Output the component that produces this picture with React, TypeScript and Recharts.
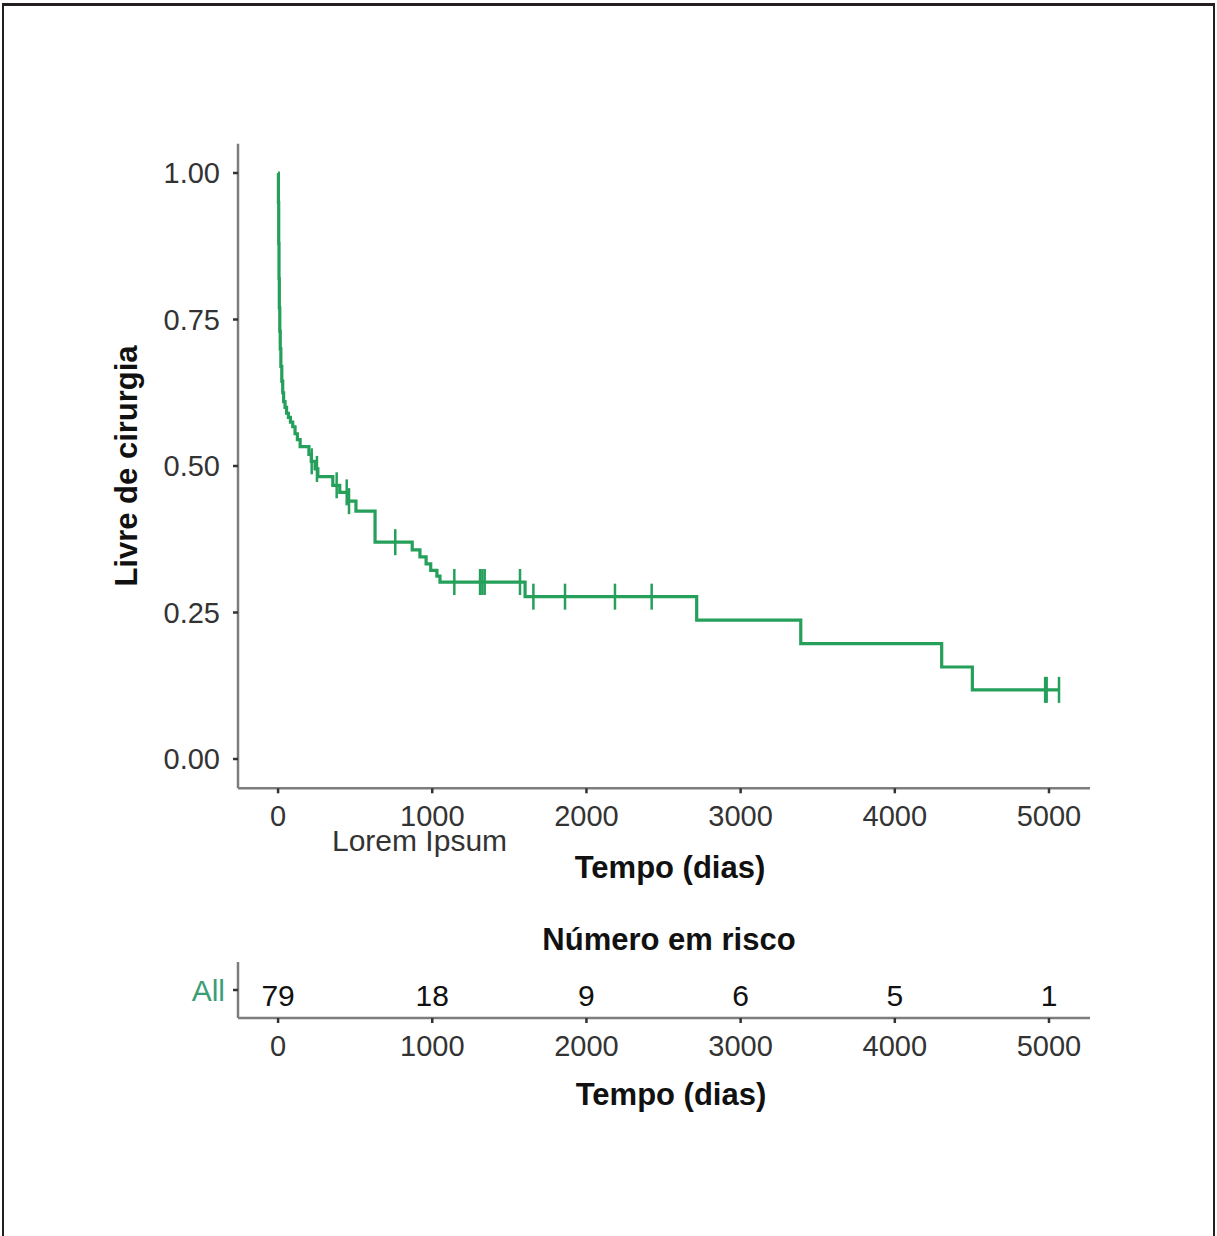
import React from "react";
import { ComposedChart, Line, Scatter, XAxis, YAxis, Label } from "recharts";

const FONT = '"Liberation Sans", Arial, Helvetica, sans-serif';
const GREEN = "#24a05b";
const GROUP_GREEN = "#3a9e76";
const AXIS_GRAY = "#7d7d7d";
const TICK_DARK = "#333333";

// eixos
const timeTicks = [0, 1000, 2000, 3000, 4000, 5000];
const survTicks = [0, 0.25, 0.5, 0.75, 1];

// curva de Kaplan-Meier (degraus)
const stepTimes = [
  0, 2, 4, 6, 8, 11, 14, 18, 24, 30, 36, 45, 55, 67, 80, 95, 110, 125, 143,
  200, 215, 240, 258, 355, 400, 455, 505, 629, 870, 920, 960, 990, 1030, 1050,
  1602, 2715, 3390, 4304, 4503, 5065,
];
const stepSurv = [
  1.0, 0.95, 0.88, 0.82, 0.77, 0.73, 0.7, 0.67, 0.645, 0.625, 0.61, 0.6, 0.59,
  0.583, 0.575, 0.567, 0.555, 0.545, 0.533, 0.52, 0.508, 0.495, 0.482, 0.467,
  0.455, 0.44, 0.423, 0.37, 0.357, 0.345, 0.333, 0.322, 0.312, 0.302, 0.277,
  0.237, 0.197, 0.157, 0.118, 0.118,
];

// observações censuradas
const censorTimes = [
  218, 252, 380, 445, 460, 760, 1143, 1310, 1325, 1340, 1569, 1656, 1861, 2185,
  2423, 4975, 4985, 5065,
];

// tabela de número em risco
const riskGroup = "All";
const riskTimes = [0, 1000, 2000, 3000, 4000, 5000];
const riskCounts = [79, 18, 9, 6, 5, 1];

const curve = stepTimes.map((t, i) => ({ t, s: stepSurv[i] }));

const survAt = (t: number) => {
  let s = stepSurv[0];
  stepTimes.forEach((st, i) => {
    if (st <= t) s = stepSurv[i];
  });
  return s;
};

const censors = censorTimes.map((t) => ({ t, s: survAt(t) }));
const risk = riskTimes.map((t, i) => ({ t, y: 1, n: riskCounts[i] }));

const CensorMark = (props: any) => {
  const { cx, cy } = props;
  if (cx == null || cy == null) return null;
  return <line x1={cx} x2={cx} y1={cy - 13} y2={cy + 13} stroke={GREEN} strokeWidth={2.5} />;
};

const RiskNumber = (props: any) => {
  const { cx, cy } = props;
  const n = props.payload?.n ?? props.n;
  if (cx == null || cy == null) return null;
  return (
    <text x={cx} y={cy + 16} textAnchor="middle" fill="#111" fontSize={30} fontFamily={FONT}>
      {n}
    </text>
  );
};

const tickStyle = { fill: TICK_DARK, fontSize: 29, fontFamily: FONT };

export default function App() {
  return (
    <div style={{ position: "absolute", left: 0, top: 0, width: 1217, height: 1236, background: "#fff", fontFamily: FONT }}>
      {/* moldura */}
      <div
        style={{
          position: "absolute",
          left: 2,
          top: 3,
          width: 1209,
          height: 1233,
          borderTop: "3px solid #231f20",
          borderLeft: "2px solid #231f20",
          borderRight: "2px solid #231f20",
        }}
      />

      <div style={{ position: "absolute", left: 0, top: 0 }}>
        <ComposedChart width={1217} height={900} margin={{ top: 143.7, right: 127, left: 128, bottom: 11.7 }}>
          <XAxis
            dataKey="t"
            type="number"
            domain={[-260, 5266]}
            ticks={timeTicks}
            allowDataOverflow
            height={100}
            tick={tickStyle}
            tickSize={5}
            tickMargin={12}
            tickLine={{ stroke: TICK_DARK, strokeWidth: 2.5 }}
            axisLine={{ stroke: AXIS_GRAY, strokeWidth: 2.5 }}
          >
            <Label
              content={({ viewBox }: any) => (
                <text x={viewBox.x + 94} y={viewBox.y + 63} fill={TICK_DARK} fontSize={30} fontFamily={FONT}>
                  Lorem Ipsum
                </text>
              )}
            />
            <Label
              content={({ viewBox }: any) => (
                <text
                  x={viewBox.x + viewBox.width / 2 + 6}
                  y={viewBox.y + 90}
                  textAnchor="middle"
                  fill="#111"
                  fontSize={31}
                  fontWeight="bold"
                  fontFamily={FONT}
                >
                  Tempo (dias)
                </text>
              )}
            />
          </XAxis>
          <YAxis
            type="number"
            domain={[-0.05, 1.05]}
            ticks={survTicks}
            allowDataOverflow
            width={110}
            tick={tickStyle}
            tickSize={5}
            tickMargin={13}
            tickFormatter={(v: number) => v.toFixed(2)}
            tickLine={{ stroke: TICK_DARK, strokeWidth: 2.5 }}
            axisLine={{ stroke: AXIS_GRAY, strokeWidth: 2.5 }}
          >
            <Label
              content={({ viewBox }: any) => {
                const x = viewBox.x + 9;
                const y = viewBox.y + viewBox.height / 2;
                return (
                  <text
                    x={x}
                    y={y}
                    transform={`rotate(-90, ${x}, ${y})`}
                    textAnchor="middle"
                    fill="#111"
                    fontSize={31}
                    fontWeight="bold"
                    fontFamily={FONT}
                  >
                    Livre de cirurgia
                  </text>
                );
              }}
            />
          </YAxis>
          <Line
            data={curve}
            dataKey="s"
            type="stepAfter"
            stroke={GREEN}
            strokeWidth={3.2}
            dot={false}
            activeDot={false}
            isAnimationActive={false}
          />
          <Scatter data={censors} dataKey="s" shape={CensorMark} isAnimationActive={false} />
        </ComposedChart>
      </div>

      <div
        style={{
          position: "absolute",
          left: 369,
          top: 920,
          width: 600,
          textAlign: "center",
          fontSize: 31,
          fontWeight: "bold",
          color: "#111",
          lineHeight: "40px",
        }}
      >
        Número em risco
      </div>

      <div style={{ position: "absolute", left: 0, top: 900 }}>
        <ComposedChart width={1217} height={300} margin={{ top: 62, right: 127, left: 128, bottom: 82 }}>
          <XAxis
            dataKey="t"
            type="number"
            domain={[-260, 5266]}
            ticks={timeTicks}
            allowDataOverflow
            height={100}
            tick={tickStyle}
            tickSize={5}
            tickMargin={12}
            tickLine={{ stroke: TICK_DARK, strokeWidth: 2.5 }}
            axisLine={{ stroke: AXIS_GRAY, strokeWidth: 2.5 }}
          >
            <Label
              content={({ viewBox }: any) => (
                <text
                  x={viewBox.x + viewBox.width / 2 + 7}
                  y={viewBox.y + 87}
                  textAnchor="middle"
                  fill="#111"
                  fontSize={31}
                  fontWeight="bold"
                  fontFamily={FONT}
                >
                  Tempo (dias)
                </text>
              )}
            />
          </XAxis>
          <YAxis
            dataKey="y"
            type="number"
            domain={[0, 2]}
            ticks={[1]}
            width={110}
            tick={{ fill: GROUP_GREEN, fontSize: 30, fontFamily: FONT }}
            tickSize={5}
            tickMargin={8}
            tickFormatter={() => riskGroup}
            tickLine={{ stroke: TICK_DARK, strokeWidth: 2.5 }}
            axisLine={{ stroke: AXIS_GRAY, strokeWidth: 2.5 }}
          />
          <Scatter data={risk} dataKey="y" shape={RiskNumber} isAnimationActive={false} />
        </ComposedChart>
      </div>
    </div>
  );
}
